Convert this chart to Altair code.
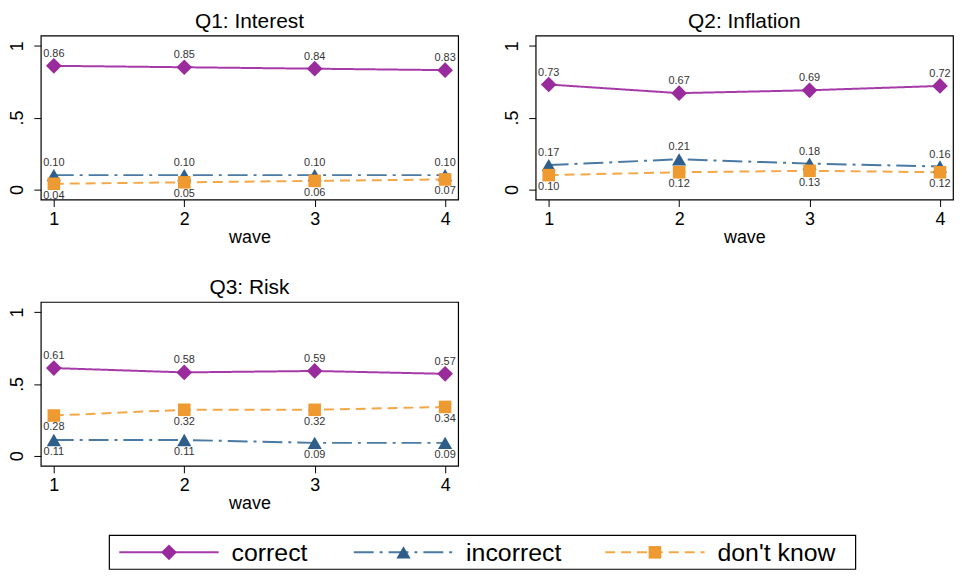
import altair as alt
import pandas as pd

# ---------------- data ----------------
waves = [1, 2, 3, 4]
series = ["correct", "incorrect", "don't know"]
panel_titles = ["Q1: Interest", "Q2: Inflation", "Q3: Risk"]

q1_correct = [0.86, 0.85, 0.84, 0.83]
q1_incorrect = [0.10, 0.10, 0.10, 0.10]
q1_dontknow = [0.04, 0.05, 0.06, 0.07]

q2_correct = [0.73, 0.67, 0.69, 0.72]
q2_incorrect = [0.17, 0.21, 0.18, 0.16]
q2_dontknow = [0.10, 0.12, 0.13, 0.12]

q3_correct = [0.61, 0.58, 0.59, 0.57]
q3_incorrect = [0.11, 0.11, 0.09, 0.09]
q3_dontknow = [0.28, 0.32, 0.32, 0.34]

# which side of the marker the value label sits on (per panel, per series)
q1_label_side = ["above", "above", "below"]
q2_label_side = ["above", "above", "below"]
q3_label_side = ["above", "below", "below"]

# ---------------- styles ----------------
FONT = "Liberation Sans"
LINE_COLORS = ["#A53AA8", "#4A79A3", "#F3A848"]
MARK_COLORS = ["#992B9D", "#2F5E8A", "#EE9A30"]
DASHES = [[1, 0], [20, 6, 3, 6], [10, 6]]
SHAPES = ["diamond", "triangle-up", "square"]
SIZES = [250, 160, 130]

PW, PH = 420, 165

color_line = alt.Color("series:N", scale=alt.Scale(domain=series, range=LINE_COLORS), legend=None)
fill_mark = alt.Fill("series:N", scale=alt.Scale(domain=series, range=MARK_COLORS), legend=None)
dash_enc = alt.StrokeDash("series:N", scale=alt.Scale(domain=series, range=DASHES), legend=None)
shape_enc = alt.Shape("series:N", scale=alt.Scale(domain=series, range=SHAPES), legend=None)
size_enc = alt.Size("series:N", scale=alt.Scale(domain=series, range=SIZES), legend=None)


def make_panel(title, vals, sides):
    rows = []
    for s, v, side in zip(series, vals, sides):
        for w, val in zip(waves, v):
            rows.append({"wave": w, "value": val, "series": s, "side": side})
    df = pd.DataFrame(rows)
    base = alt.Chart(df)
    x = alt.X("wave:Q", scale=alt.Scale(domain=[0.9, 4.1], nice=False, zero=False),
              axis=alt.Axis(values=waves, format="d", title="wave", labelPadding=4, titlePadding=0))
    y = alt.Y("value:Q", scale=alt.Scale(domain=[-0.07, 1.07], nice=False, zero=False),
              axis=alt.Axis(values=[0, 0.5, 1], title=None, labelAngle=270, labelPadding=7,
                            labelExpr="datum.value == 0.5 ? '.5' : (datum.value == 1 ? '1' : '0')"))
    lines = base.mark_line(strokeWidth=2).encode(x=x, y=y, color=color_line, strokeDash=dash_enc)
    points = base.mark_point(filled=True, opacity=1).encode(
        x=x, y=y, fill=fill_mark, shape=shape_enc, size=size_enc)
    above = base.transform_filter(alt.datum.side == "above").mark_text(
        dy=-12, fontSize=11, color="#333333", font=FONT).encode(
        x=x, y=y, text=alt.Text("value:Q", format=".2f"))
    below = base.transform_filter(alt.datum.side == "below").mark_text(
        dy=12, fontSize=11, color="#333333", font=FONT).encode(
        x=x, y=y, text=alt.Text("value:Q", format=".2f"))
    return alt.layer(lines, points, above, below).properties(
        width=PW, height=PH, title=alt.TitleParams(title, frame="group"))


p1 = make_panel(panel_titles[0], [q1_correct, q1_incorrect, q1_dontknow], q1_label_side)
p2 = make_panel(panel_titles[1], [q2_correct, q2_incorrect, q2_dontknow], q2_label_side)
p3 = make_panel(panel_titles[2], [q3_correct, q3_incorrect, q3_dontknow], q3_label_side)

# ---------------- legend (custom box) ----------------
LW, LH = 820, 34
BOX_L, BOX_R = 69, 820
leg_df = pd.DataFrame({
    "series": series,
    "x0": [BOX_L + 10, BOX_L + 246, BOX_L + 499],
})
leg_df["x1"] = leg_df["x0"] + 100
leg_df["xm"] = leg_df["x0"] + 50
leg_df["xt"] = leg_df["x0"] + 113
box_df = pd.DataFrame({"bx0": [BOX_L], "bx1": [BOX_R]})
lx = alt.Scale(domain=[0, LW], nice=False, zero=False)
lbase = alt.Chart(leg_df)
leg_box = alt.Chart(box_df).mark_rect(fill="white", stroke="black", strokeWidth=1.2).encode(
    x=alt.X("bx0:Q", scale=lx, axis=None), x2="bx1:Q", y=alt.value(0), y2=alt.value(LH))
leg_rule = lbase.mark_rule(strokeWidth=2).encode(
    x=alt.X("x0:Q", scale=lx, axis=None), x2="x1:Q", y=alt.value(LH / 2),
    color=color_line, strokeDash=dash_enc)
leg_pt = lbase.mark_point(filled=True, opacity=1).encode(
    x=alt.X("xm:Q", scale=lx, axis=None), y=alt.value(LH / 2),
    fill=fill_mark, shape=shape_enc, size=size_enc)
leg_txt = lbase.mark_text(align="left", baseline="middle", fontSize=25, font=FONT, color="black").encode(
    x=alt.X("xt:Q", scale=lx, axis=None), y=alt.value(LH / 2 + 1), text="series:N")
legend = alt.layer(leg_box, leg_rule, leg_pt, leg_txt).properties(
    width=LW, height=LH, view=alt.ViewBackground(stroke="transparent"))

top = alt.vconcat(alt.hconcat(p1, p2, spacing=44), p3, spacing=29)
chart = alt.vconcat(top, legend, spacing=20).properties(
    padding=0, background="white"
).configure_view(
    stroke="black", strokeWidth=1.2
).configure_axis(
    domain=False, grid=False, ticks=True, tickSize=7, tickColor="black", tickWidth=1,
    labelFont=FONT, labelFontSize=18, labelColor="black",
    titleFont=FONT, titleFontSize=18, titleFontWeight="normal", titleColor="black"
).configure_title(
    font=FONT, fontSize=21, fontWeight="normal", color="black", offset=0, anchor="middle"
)

chart.save("out.html", embed_options={"renderer": "svg", "actions": False})
